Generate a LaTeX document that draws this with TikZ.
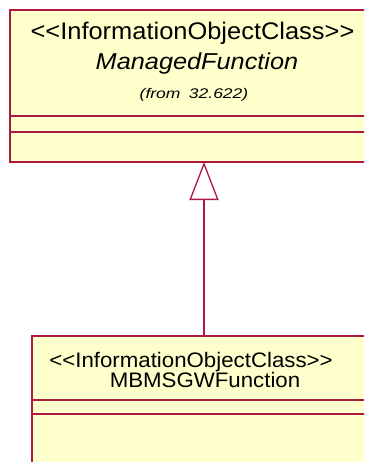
\documentclass[tikz,border=0pt]{standalone}
\usepackage{fontspec}
\setmainfont{Liberation Sans}
\newfontfamily\stA[FakeStretch=1.06]{Liberation Sans}
\newfontfamily\stB[FakeStretch=1.10]{Liberation Sans}
\newfontfamily\stC[FakeStretch=1.25]{Liberation Sans}
\usetikzlibrary{arrows.meta}
\definecolor{umlborder}{RGB}{175,25,65}
\definecolor{umlfill}{RGB}{255,255,204}
\tikzset{
  classbox/.style={draw=umlborder, fill=umlfill, line width=1.3pt},
  sepline/.style={draw=umlborder, line width=1.3pt},
  txt/.style={inner sep=0pt, anchor=base, text=black},
  genarrow/.style={draw=umlborder, line width=1.3pt, -{Triangle[open, length=38pt, width=29pt, line width=1.3pt]}},
}
\begin{document}
\begin{tikzpicture}[x=1pt,y=-1pt]
\useasboundingbox (0,0) rectangle (364,462);
\begin{scope}
\clip (0,0) rectangle (364,462);
% top class
\path[classbox] (10,10) rectangle (376,162);
\coordinate (topbot) at (204,162);
\draw[sepline] (10,116) -- (376,116);
\draw[sepline] (10,132) -- (376,132);
\node[txt] (st1) at (192.5,40) {\stA\fontsize{24}{26}\selectfont {<}{<}InformationObjectClass{>}{>}};
\node[txt] (nm1) at (197,70) {\stB\fontsize{23}{25}\selectfont\itshape ManagedFunction};
\node[txt] (fr1) at (194,99) {\stC\fontsize{14}{16}\selectfont\itshape (from\hspace{0.6em}32.622)};
% bottom class
\path[classbox] (32,336) rectangle (380,470);
\coordinate (bottop) at (204,336);
\draw[sepline] (32,400) -- (380,400);
\draw[sepline] (32,414) -- (380,414);
\node[txt] (st2) at (191,367) {\stA\fontsize{21}{23}\selectfont {<}{<}InformationObjectClass{>}{>}};
\node[txt] (nm2) at (205,387) {\stA\fontsize{21}{23}\selectfont MBMSGWFunction};
% generalization
\draw[genarrow] (bottop) -- (topbot);
\end{scope}
\end{tikzpicture}
\end{document}
